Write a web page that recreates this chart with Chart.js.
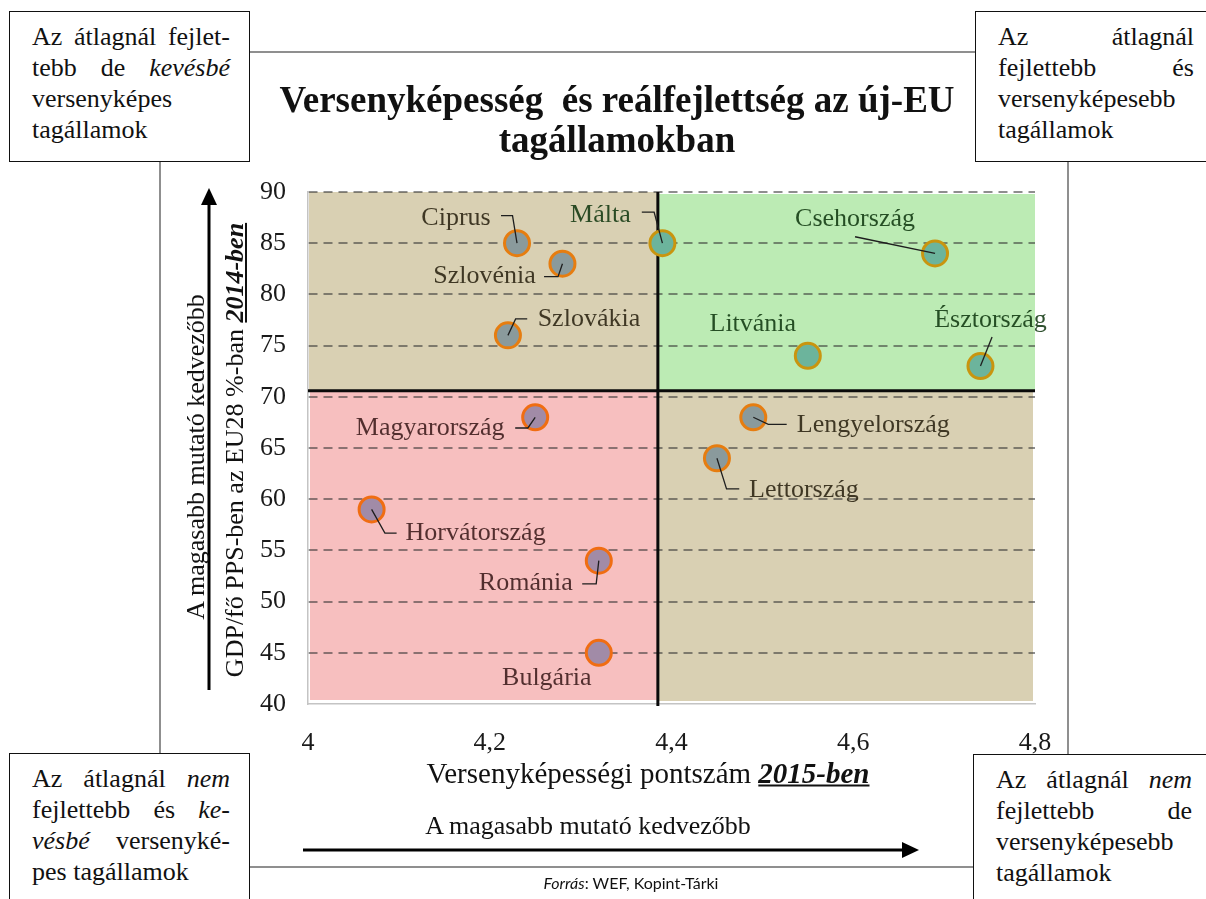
<!DOCTYPE html>
<html><head><meta charset="utf-8">
<script src="https://cdn.jsdelivr.net/npm/chart.js@4.4.1/dist/chart.umd.min.js"></script>
<style>
html,body{margin:0;padding:0;background:#fff;}
#wrap{position:relative;width:1206px;height:899px;overflow:hidden;font-family:"Liberation Serif","Times New Roman",serif;color:#111;}
#c{position:absolute;left:0;top:0;}
.box{position:absolute;background:#fff;border:1.5px solid #111;box-sizing:border-box;font-size:26px;line-height:31px;padding:9px 19px 0 22px;}
.box div{white-space:nowrap;}
.box .j{text-align:justify;text-align-last:justify;white-space:normal;}
.abs{position:absolute;white-space:nowrap;}
#title{position:absolute;left:250px;width:734px;top:80px;text-align:center;font-weight:bold;font-size:37px;line-height:40px;}
</style></head>
<body>
<div id="wrap">
<canvas id="c" width="1206" height="899"></canvas>
<div id="title">Versenyképesség&nbsp; és reálfejlettség az új-EU<br>tagállamokban</div>
<div class="abs" style="left:196px;top:457px;font-size:26px;transform:translate(-50%,-50%) rotate(-90deg);">A magasabb mutató kedvezőbb</div>
<div class="abs" style="left:235px;top:450px;font-size:26px;transform:translate(-50%,-50%) rotate(-90deg);">GDP/fő PPS-ben az EU28 %-ban <b><i><u>2014-ben</u></i></b></div>
<div class="abs" style="left:648px;top:773px;font-size:29px;transform:translate(-50%,-50%);">Versenyképességi pontszám <b><i><u>2015-ben</u></i></b></div>
<div class="abs" style="left:588px;top:826px;font-size:26px;transform:translate(-50%,-50%);">A magasabb mutató kedvezőbb</div>
<div class="abs" style="left:631px;top:882px;font-size:16px;font-family:Lato,'Open Sans',sans-serif;transform:translate(-50%,-50%);"><i>Forrás</i>: WEF, Kopint-Tárki</div>

<div class="box" style="left:9px;top:11px;width:241px;height:151px;">
<div class="j">Az átlagnál fejlet-</div>
<div class="j">tebb de <i>kevésbé</i></div>
<div>versenyképes</div>
<div>tagállamok</div>
</div>
<div class="box" style="left:975px;top:11px;width:240px;height:151px;padding-right:20px;">
<div class="j">Az átlagnál</div>
<div class="j">fejlettebb és</div>
<div>versenyképesebb</div>
<div>tagállamok</div>
</div>
<div class="box" style="left:9px;top:753px;width:241px;height:160px;">
<div class="j">Az átlagnál <i>nem</i></div>
<div class="j">fejlettebb és <i>ke-</i></div>
<div class="j"><i>vésbé</i> versenyké-</div>
<div>pes tagállamok</div>
</div>
<div class="box" style="left:973px;top:754px;width:242px;height:160px;padding-right:22px;">
<div class="j">Az átlagnál <i>nem</i></div>
<div class="j">fejlettebb de</div>
<div>versenyképesebb</div>
<div>tagállamok</div>
</div>
</div>

<script>
// ---- data ----
const countries = ['Ciprus','Szlovénia','Szlovákia','Málta','Csehország','Litvánia','Észtország','Magyarország','Horvátország','Románia','Bulgária','Lengyelország','Lettország'];
const competitiveness2015 = [4.23, 4.28, 4.22, 4.39, 4.69, 4.55, 4.74, 4.25, 4.07, 4.32, 4.32, 4.49, 4.45];
const gdpPerCapita2014 = [85, 83, 76, 85, 84, 74, 73, 68, 59, 54, 45, 68, 64];
const xTickValues = [4, 4.2, 4.4, 4.6, 4.8];
const yTickValues = [40, 45, 50, 55, 60, 65, 70, 75, 80, 85, 90];
const avgCompetitiveness = 4.385;
const avgGdp = 70.6;

// ---- label placement (pixel offsets from the point, styling only) ----
const labelLayout = {
  'Ciprus':       {dx:-61, dy:-25, leader:[[-16,-27.5],[-4.5,-27.5],[0,0]]},
  'Szlovénia':    {dx:-78, dy:12,  leader:[[-18.4,13],[-4.4,13],[0,0]]},
  'Szlovákia':    {dx:81,  dy:-16, leader:[[19.3,-16.4],[7.7,-16.4],[0,0]]},
  'Málta':        {dx:-62, dy:-28, leader:[[-20.6,-31],[-8.3,-31],[0,0]]},
  'Csehország':   {dx:-80, dy:-34, leader:[[-80,-16.7],[0,0]]},
  'Litvánia':     {dx:-55, dy:-32, leader:null},
  'Észtország':   {dx:10,  dy:-46, leader:[[11.6,-29],[0,0]]},
  'Magyarország': {dx:-105,dy:11,  leader:[[-20,10.7],[-7.3,10.7],[0,0]]},
  'Horvátország': {dx:104, dy:24,  leader:[[25,23.6],[13.3,23.6],[0,0]]},
  'Románia':      {dx:-73, dy:23,  leader:[[-16.6,23.3],[-2.6,23.3],[0,0]]},
  'Bulgária':     {dx:-52, dy:25,  leader:null},
  'Lengyelország':{dx:120, dy:8,   leader:[[33.4,7],[15,7],[0,0]]},
  'Lettország':   {dx:87,  dy:32,  leader:[[22.3,30.7],[9.6,30.7],[0,0]]}
};

function quadrant(p){
  const hiX = p.x >= avgCompetitiveness, hiY = p.y >= avgGdp;
  if (hiX && hiY) return 'green';
  if (!hiX && !hiY) return 'pink';
  return 'tan';
}
const fillCol = {green:'#6cb49c', pink:'#a18ba7', tan:'#8a9a9c'};
const strokeCol = {green:'#c9950f', pink:'#f06d12', tan:'#e67d10'};
const textCol = {green:'rgba(10,50,10,0.85)', pink:'rgba(40,10,10,0.8)', tan:'rgba(35,28,10,0.85)'};

const quadrantPlugin = {
  id:'quadrants',
  beforeDraw(chart){
    const {ctx, chartArea:a, scales:{x,y}} = chart;
    ctx.save();
    ctx.strokeStyle = '#8f8f8f'; ctx.lineWidth = 2;
    ctx.strokeRect(160, 52, 908, 815);
    const mx = x.getPixelForValue(avgCompetitiveness);
    const my = y.getPixelForValue(avgGdp);
    const bottom = a.bottom - 4;
    ctx.fillStyle = '#d9d0b3'; ctx.fillRect(a.left+1, a.top, mx-a.left-1, my-a.top);
    ctx.fillStyle = '#bcebb4'; ctx.fillRect(mx, a.top+2, a.right-mx, my-a.top-2);
    ctx.fillStyle = '#f7bfbf'; ctx.fillRect(a.left+2, my, mx-a.left-2, bottom-my);
    ctx.fillStyle = '#d9d0b3'; ctx.fillRect(mx, my, a.right-mx-2, bottom-my+1);
    ctx.strokeStyle = '#000'; ctx.fillStyle = '#000'; ctx.lineWidth = 3;
    ctx.beginPath(); ctx.moveTo(303, 850); ctx.lineTo(905, 850); ctx.stroke();
    ctx.beginPath(); ctx.moveTo(919, 850); ctx.lineTo(902, 842); ctx.lineTo(902, 858); ctx.closePath(); ctx.fill();
    ctx.beginPath(); ctx.moveTo(209, 690); ctx.lineTo(209, 203); ctx.stroke();
    ctx.beginPath(); ctx.moveTo(209, 188); ctx.lineTo(201, 205); ctx.lineTo(217, 205); ctx.closePath(); ctx.fill();
    ctx.restore();
  },
  beforeDatasetsDraw(chart){
    const {ctx, chartArea:a, scales:{x,y}} = chart;
    const mx = x.getPixelForValue(avgCompetitiveness);
    const my = y.getPixelForValue(avgGdp);
    ctx.save();
    ctx.strokeStyle = '#0a0a0a'; ctx.lineWidth = 3;
    ctx.beginPath(); ctx.moveTo(a.left, my); ctx.lineTo(a.right, my); ctx.stroke();
    ctx.beginPath(); ctx.moveTo(mx, a.top); ctx.lineTo(mx, a.bottom+2); ctx.stroke();
    ctx.restore();
  },
  afterDatasetsDraw(chart){
    const {ctx} = chart;
    const meta = chart.getDatasetMeta(0);
    const ds = chart.data.datasets[0].data;
    ctx.save();
    ctx.font = '26px "Liberation Serif", "Times New Roman", serif';
    ctx.textAlign = 'center'; ctx.textBaseline = 'middle';
    meta.data.forEach((pt, i) => {
      const L = labelLayout[countries[i]];
      if (!L) return;
      const q = quadrant(ds[i]);
      if (L.leader){
        ctx.strokeStyle = '#1e1e1e'; ctx.lineWidth = 1.3;
        ctx.beginPath();
        L.leader.forEach(([dx,dy], k) => { k ? ctx.lineTo(pt.x+dx, pt.y+dy) : ctx.moveTo(pt.x+dx, pt.y+dy); });
        ctx.stroke();
      }
      ctx.fillStyle = textCol[q];
      ctx.fillText(countries[i], pt.x + L.dx, pt.y + L.dy);
    });
    ctx.restore();
  }
};

const fmt = v => String(v).replace('.', ',');

new Chart(document.getElementById('c'), {
  type:'scatter',
  data:{
    datasets:[{
      label:'Tagállamok',
      data: countries.map((c,i) => ({x: competitiveness2015[i], y: gdpPerCapita2014[i]})),
      pointRadius:12.5, pointHoverRadius:12.5, borderWidth:3,
      backgroundColor: ctx => ctx.raw ? fillCol[quadrant(ctx.raw)] : '#8a9a9c',
      borderColor: ctx => ctx.raw ? strokeCol[quadrant(ctx.raw)] : '#e67d10'
    }]
  },
  options:{
    responsive:false, animation:false, events:[],
    layout:{padding:{left:0, top:192, right:171, bottom:0}},
    plugins:{legend:{display:false}, tooltip:{enabled:false}, title:{display:false}},
    scales:{
      x:{
        type:'linear', min:4, max:4.8,
        afterBuildTicks: s => { s.ticks = xTickValues.map(v => ({value:v})); },
        afterFit: s => { s.height = 195; },
        grid:{display:false},
        border:{display:true, color:'#c4c4c4', width:1.5},
        ticks:{font:{family:'"Liberation Serif", serif', size:26}, color:'#1a1a1a', padding:16, maxRotation:0, callback: v => fmt(v)}
      },
      y:{
        type:'linear', min:40, max:90,
        afterBuildTicks: s => { s.ticks = yTickValues.map(v => ({value:v})); },
        afterFit: s => { s.width = 308; },
        grid:{drawTicks:false, lineWidth:2, color: c => (c.tick && c.tick.value === 40) ? 'rgba(0,0,0,0)' : 'rgba(50,50,50,0.55)'},
        border:{display:true, color:'#c4c4c4', width:1.5, dash:[9,6]},
        ticks:{font:{family:'"Liberation Serif", serif', size:26}, color:'#1a1a1a', padding:22, callback: v => fmt(v)}
      }
    }
  },
  plugins:[quadrantPlugin]
});
</script>
</body></html>
